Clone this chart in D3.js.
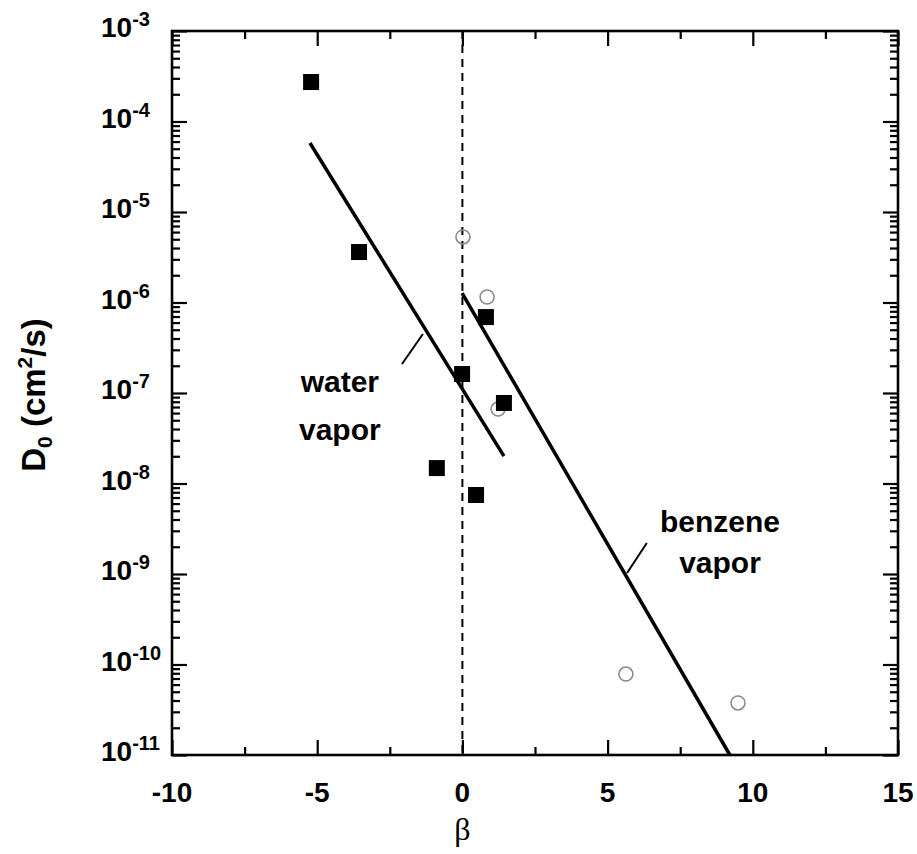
<!DOCTYPE html>
<html>
<head>
<meta charset="utf-8">
<script src="https://cdn.jsdelivr.net/npm/d3@7"></script>
<style>
  html, body { margin: 0; padding: 0; background: #fff; }
  svg { display: block; }
  text { font-family: "Liberation Sans", Arial, sans-serif; }
</style>
</head>
<body>
<svg id="chart" width="917" height="854"></svg>
<script>
// ---- data ----
const squareBeta = [-5.21, -3.56, -0.01, -0.88, 0.47, 0.81, 1.43];
const squareD    = [2.73e-4, 3.61e-6, 1.62e-7, 1.48e-8, 7.46e-9, 6.9e-7, 7.76e-8];
const circleBeta = [0.02, 0.85, 1.23, 5.63, 9.49];
const circleD    = [5.3e-6, 1.15e-6, 6.65e-8, 7.85e-11, 3.76e-11];
const waterLineBeta = [-5.25, 1.43];
const waterLineD    = [5.78e-5, 2.01e-8];
const benzeneLineBeta = [-0.01, 9.21];
const benzeneLineD    = [1.27e-6, 1e-11];
const xTickValues = [-10, -5, 0, 5, 10, 15];
const xTickLabels = ["-10", "-5", "0", "5", "10", "15"];
const xMinorValues = [-7.5, -2.5, 2.5, 7.5, 12.5];
const yTickValues = [1e-3, 1e-4, 1e-5, 1e-6, 1e-7, 1e-8, 1e-9, 1e-10, 1e-11];
const yTickExponents = ["-3", "-4", "-5", "-6", "-7", "-8", "-9", "-10", "-11"];
const waterLabel = ["water", "vapor"];
const benzeneLabel = ["benzene", "vapor"];
const waterLeaderBeta = [-2.08, -1.36];
const waterLeaderLogD = [-6.68, -6.348];
const benzeneLeaderBeta = [5.67, 6.35];
const benzeneLeaderLogD = [-8.989, -8.657];

// ---- layout ----
const pLeft = 172, pRight = 898, pTop = 31, pBottom = 755;
const svg = d3.select("#chart");
const x = d3.scaleLinear().domain([-10, 15]).range([pLeft, pRight]);
const y = d3.scaleLog().domain([1e-11, 1e-3]).range([pBottom, pTop]);

const major = 15, minor = 8;
const yMinor = y.ticks().filter(v => !yTickValues.some(t => Math.abs(Math.log10(v) - Math.log10(t)) < 1e-6));

function styleAxis(g) {
  g.select(".domain").remove();
  g.selectAll("line").attr("stroke", "#000").attr("stroke-width", 2.2);
  g.selectAll("text").remove();
}
svg.append("g").attr("transform", `translate(0,${pBottom})`)
  .call(d3.axisBottom(x).tickValues(xTickValues).tickSize(-major)).call(styleAxis);
svg.append("g").attr("transform", `translate(0,${pBottom})`)
  .call(d3.axisBottom(x).tickValues(xMinorValues).tickSize(-minor)).call(styleAxis);
svg.append("g").attr("transform", `translate(0,${pTop})`)
  .call(d3.axisTop(x).tickValues(xTickValues).tickSize(-major)).call(styleAxis);
svg.append("g").attr("transform", `translate(0,${pTop})`)
  .call(d3.axisTop(x).tickValues(xMinorValues).tickSize(-minor)).call(styleAxis);
svg.append("g").attr("transform", `translate(${pLeft},0)`)
  .call(d3.axisLeft(y).tickValues(yTickValues).tickSize(-major)).call(styleAxis);
svg.append("g").attr("transform", `translate(${pLeft},0)`)
  .call(d3.axisLeft(y).tickValues(yMinor).tickSize(-minor)).call(styleAxis);
svg.append("g").attr("transform", `translate(${pRight},0)`)
  .call(d3.axisRight(y).tickValues(yTickValues).tickSize(-major)).call(styleAxis);
svg.append("g").attr("transform", `translate(${pRight},0)`)
  .call(d3.axisRight(y).tickValues(yMinor).tickSize(-minor)).call(styleAxis);

// frame
svg.append("rect").attr("x", pLeft).attr("y", pTop)
  .attr("width", pRight - pLeft).attr("height", pBottom - pTop)
  .attr("fill", "none").attr("stroke", "#000").attr("stroke-width", 2.6);

// x tick labels
svg.append("g").selectAll("text").data(xTickValues).join("text")
  .attr("x", d => x(d)).attr("y", 802)
  .attr("text-anchor", "middle").attr("font-size", 28).attr("font-weight", "bold")
  .text((d, i) => xTickLabels[i]);

// y tick labels
const yl = svg.append("g").selectAll("text").data(yTickValues).join("text")
  .attr("x", 101).attr("y", d => y(d) + 6)
  .attr("font-size", 28).attr("font-weight", "bold");
yl.append("tspan").text("10");
yl.append("tspan").attr("dy", -11).attr("font-size", 20).text((d, i) => yTickExponents[i]);

// axis titles
svg.append("text").attr("x", x(0)).attr("y", 840)
  .attr("text-anchor", "middle").attr("font-size", 32)
  .style("font-family", "'Liberation Serif', 'DejaVu Serif', serif").text("β");

const yt = svg.append("text").attr("transform", "translate(45,395) rotate(-90)")
  .attr("text-anchor", "middle").attr("font-size", 33).attr("font-weight", "bold");
yt.append("tspan").text("D");
yt.append("tspan").attr("font-size", 21).attr("dy", 7).text("0");
yt.append("tspan").attr("dy", -7).text(" (cm");
yt.append("tspan").attr("font-size", 21).attr("dy", -13).text("2");
yt.append("tspan").attr("dy", 13).text("/s)");

// zero dashed line
svg.append("line").attr("x1", x(0)).attr("x2", x(0)).attr("y1", pTop).attr("y2", pBottom)
  .attr("stroke", "#000").attr("stroke-width", 2).attr("stroke-dasharray", "8,6");

// fit lines
const line = d3.line().x(d => x(d[0])).y(d => y(d[1]));
svg.append("path").datum(waterLineBeta.map((b, i) => [b, waterLineD[i]]))
  .attr("d", line).attr("fill", "none").attr("stroke", "#000").attr("stroke-width", 3.5);
svg.append("path").datum(benzeneLineBeta.map((b, i) => [b, benzeneLineD[i]]))
  .attr("d", line).attr("fill", "none").attr("stroke", "#000").attr("stroke-width", 3.5);

// leader lines
const yLog = v => y(Math.pow(10, v));
svg.append("line").attr("x1", x(waterLeaderBeta[0])).attr("y1", yLog(waterLeaderLogD[0]))
  .attr("x2", x(waterLeaderBeta[1])).attr("y2", yLog(waterLeaderLogD[1]))
  .attr("stroke", "#000").attr("stroke-width", 2);
svg.append("line").attr("x1", x(benzeneLeaderBeta[0])).attr("y1", yLog(benzeneLeaderLogD[0]))
  .attr("x2", x(benzeneLeaderBeta[1])).attr("y2", yLog(benzeneLeaderLogD[1]))
  .attr("stroke", "#000").attr("stroke-width", 2);

// annotation text
svg.append("g").selectAll("text").data(waterLabel).join("text")
  .attr("x", x(-4.22)).attr("y", (d, i) => i === 0 ? 392 : 440)
  .attr("text-anchor", "middle").attr("font-size", 30).attr("font-weight", "bold").text(d => d);
svg.append("g").selectAll("text").data(benzeneLabel).join("text")
  .attr("x", x(8.87)).attr("y", (d, i) => i === 0 ? 532 : 573)
  .attr("text-anchor", "middle").attr("font-size", 30).attr("font-weight", "bold").text(d => d);

// circles (open, gray)
svg.append("g").selectAll("circle").data(circleBeta.map((b, i) => [b, circleD[i]])).join("circle")
  .attr("cx", d => x(d[0])).attr("cy", d => y(d[1])).attr("r", 7)
  .attr("fill", "none").attr("stroke", "#8a8a8a").attr("stroke-width", 1.6);

// squares (filled black)
const s = 16;
svg.append("g").selectAll("rect").data(squareBeta.map((b, i) => [b, squareD[i]])).join("rect")
  .attr("x", d => x(d[0]) - s / 2).attr("y", d => y(d[1]) - s / 2)
  .attr("width", s).attr("height", s).attr("fill", "#000");
</script>
</body>
</html>
